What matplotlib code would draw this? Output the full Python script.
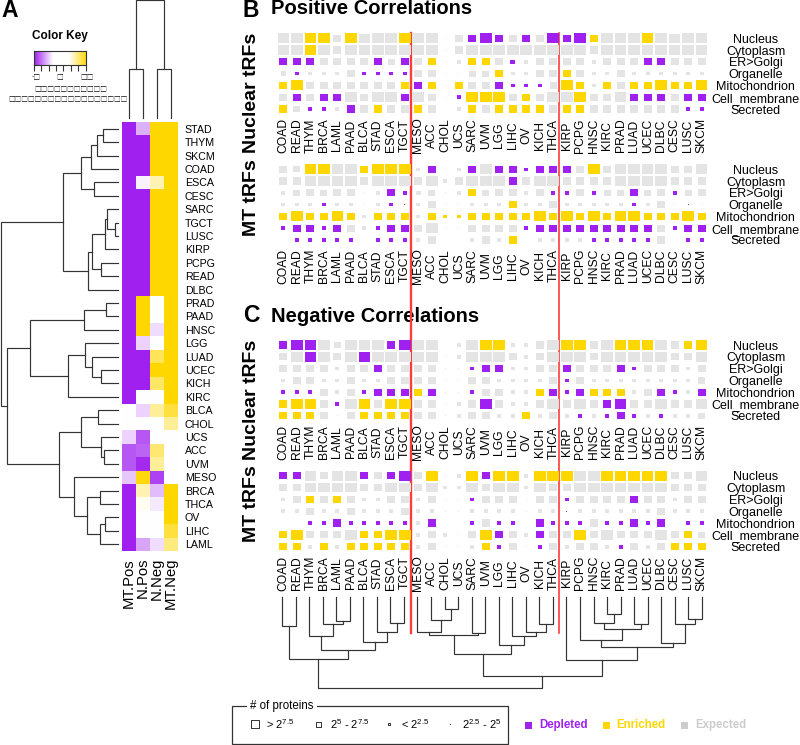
import numpy as np
import matplotlib
matplotlib.use("Agg")
import matplotlib.pyplot as plt
from matplotlib.colors import LinearSegmentedColormap
from matplotlib.patches import Rectangle

plt.rcParams['font.family'] = ['Liberation Sans', 'DejaVu Sans']
plt.rcParams['mathtext.fontset'] = 'custom'
plt.rcParams['mathtext.rm'] = 'Liberation Sans'
plt.rcParams['mathtext.default'] = 'rm'

W, H = 800, 745

# panel A heatmap
row_labels = ["STAD", "THYM", "SKCM", "COAD", "ESCA", "CESC", "SARC", "TGCT", "LUSC", "KIRP", "PCPG",
              "READ", "DLBC", "PRAD", "PAAD", "HNSC", "LGG", "LUAD", "UCEC", "KICH", "KIRC", "BLCA",
              "CHOL", "UCS", "ACC", "UVM", "MESO", "BRCA", "THCA", "OV", "LIHC", "LAML"]
heat_cols = ["MT.Pos", "N.Pos", "N.Neg", "MT.Neg"]
mt_pos = [-1, -1, -1, -1, -1, -1, -1, -1, -1, -1, -1, -1, -1, -1, -1, -1, -1, -1, -1, -1, -1, 0, 0,
          -0.2, -0.75, -0.75, -0.25, -1, -1, -1, -1, -1]
n_pos = [-0.35, -1, -1, -1, -0.06, -1, -1, -1, -1, -1, -1, -1, -1, 1, 1, 1, -0.2, -1, -1, -1, 0, -0.2, 0,
         -0.75, -0.7, -0.95, 0.95, 0.3, 0.06, 0, 0, -0.4]
n_neg = [1, 1, 1, 1, 0.3, 1, 1, 1, 1, 1, 1, 1, 1, 0, 0, -0.15, 0, 0.65, 1, 0.6, 0, 0.4, 0,
         0, 0.55, 0.4, -0.85, -0.3, -0.1, 0, 0, -0.15]
mt_neg = [1, 1, 1, 1, 1, 1, 1, 1, 1, 1, 1, 1, 1, 1, 1, 1, 1, 1, 1, 1, 1, 0.75, 0.4,
          0, 0, 0, 0, 1, 1, 1, 0.75, 0.5]

# trees: (height, left, right)
row_tree = (117.3,
    (55.3,
        (37.3, (27.3, (21, (15, "STAD", "THYM"), "SKCM"), "COAD"), (24, "ESCA", "CESC")),
        (30.3, (26, (13.3, (10.7, "SARC", (3.3, "TGCT", "LUSC")), "KIRP"), (17, "PCPG", "READ")), "DLBC")),
    (111.3,
        (88.3,
            (33.7, (11.7, "PRAD", "PAAD"), "HNSC"),
            (50.3, (33.3, "LGG", (26, "LUAD", (17, "UCEC", "KICH"))), "KIRC")),
        (59.3,
            (37.3, (19.7, "BLCA", "CHOL"), (17.3, "UCS", (14, "ACC", "UVM"))),
            (44.3, "MESO", (31, (18, "BRCA", "THCA"), (18, (12.7, "OV", "LIHC"), "LAML"))))))
col_tree_heat = (117, (48, "MT.Pos", "N.Pos"), (48, "N.Neg", "MT.Neg"))

# panels B and C
compartments = ["Nucleus", "Cytoplasm", "ER>Golgi", "Organelle", "Mitochondrion", "Cell_membrane", "Secreted"]
cancers = ["COAD", "READ", "THYM", "BRCA", "LAML", "PAAD", "BLCA", "STAD", "ESCA", "TGCT", "MESO", "ACC",
           "CHOL", "UCS", "SARC", "UVM", "LGG", "LIHC", "OV", "KICH", "THCA", "KIRP", "PCPG", "HNSC", "KIRC",
           "PRAD", "LUAD", "UCEC", "DLBC", "CESC", "LUSC", "SKCM"]

# each cell: p depleted / y enriched / g expected, number = square side
pos_nuclear = [
    "g11 g11 y11 y11 g8 y11 g10 g11 g11 y11 g11 g11 g1 g8 p8 p11 p8 g8 p8 g8 p11 p8 p11 y8 g11 g11 g11 y11 g11 g10 g11 g11",
    "g11 g11 y11 g11 g8 g11 g11 g11 g11 g11 g11 g11 g1 g8 g11 g11 g11 g11 g11 g11 g11 g11 g11 g8 g11 g11 g11 g11 g11 g11 g11 g11",
    "p8 p8 p8 g8 g8 g8 g8 p8 g7 p8 g8 y8 g1 g4 y8 y8 g8 p5 g4 g8 g8 g8 g8 g4 g8 g8 g8 p8 p8 g8 g8 g8",
    "g5 p4 g4 g4 g4 g8 p4 p4 p4 p4 g8 g8 g1 g1 g7 g7 y8 g4 g4 g8 g8 y8 g8 g4 g4 g8 g4 g4 g4 g4 g4 g4",
    "y8 y11 g8 g8 g8 g8 g8 g8 g8 y8 p8 y8 g1 y8 g8 g8 p8 p4 p4 p4 g7 y11 y8 g4 y8 g8 y8 y8 y11 y8 y8 y11",
    "g8 p8 g8 p8 p8 g11 g8 g11 g11 p8 g11 g8 g1 p4 y11 y11 y11 g8 y8 g8 g11 g11 y11 g8 g8 g11 p8 p8 p8 g8 p8 p8",
    "y8 g7 p4 p4 g4 p8 g8 y8 g8 g8 y8 g8 g1 g4 y8 g8 y8 y8 y8 y8 g8 y8 y8 g8 g8 g8 g8 g8 g8 g8 p4 p4",
]
pos_mt = [
    "g8 g7 y11 y11 g11 g11 y8 y11 y11 y11 g4 p8 g1 g4 p8 g11 p8 p8 p4 p8 p8 p8 g8 y11 g8 g11 g11 g11 g11 g8 g8 g11",
    "g8 g8 g11 g11 g11 g11 g8 g11 g11 g11 g8 g11 g4 g8 g11 g11 g11 p8 g8 g11 g11 g8 g8 g8 g8 g11 g11 g11 g11 g8 g8 g8",
    "g4 g7 g8 g7 g8 g8 g1 g4 p8 p4 g5 g7 g1 g4 y8 g7 g8 g8 g4 g8 p4 p4 g8 p4 g7 g7 p8 g7 g8 p4 g7 g8",
    "g4 g4 g4 p4 g4 g4 g1 g4 p4 p1 g4 g8 g1 g1 g4 g4 g4 y8 g4 g4 g8 g4 g4 g4 g4 g4 p4 g4 g8 g1 p1 g1",
    "y8 y11 y8 y8 y11 y8 g4 y8 y8 y8 g4 y8 y4 y4 y8 y8 y8 y8 y8 y11 y8 y11 y8 y11 y8 y11 y11 y8 y8 y8 y11 y8",
    "p4 p8 p8 p4 p8 g8 g4 p4 p8 p8 g8 g11 g1 g1 g8 g8 g8 g8 p4 p8 p8 p8 p8 p8 p8 p8 p8 p8 g8 p4 p8 p8",
    "p1 p4 p4 p4 p4 p4 g1 p4 p4 p4 g4 g8 g1 g1 g4 g8 g4 y8 g1 g4 g4 g4 g4 p4 p4 p4 p4 p4 g8 p1 p4 p4",
]
neg_nuclear = [
    "p8 p11 p11 g11 g7 g11 g11 g11 p8 p11 g11 g11 g1 g4 g11 y11 y11 g4 g4 g8 g11 y11 y11 g8 g11 y11 y11 y11 g11 g8 y8 y11",
    "g8 g11 p11 g11 g8 g11 p11 g11 g11 g11 g11 g11 g1 g4 g11 g11 g11 g8 g4 g8 g11 g11 g11 g8 g11 g11 g11 g11 g11 g8 g8 g11",
    "g8 g8 g8 g8 g4 g8 g8 p8 g8 g8 g8 g8 g1 g1 p4 p8 p8 g4 g4 g8 g8 p8 g8 g8 g8 p8 p4 g8 g8 g8 g4 g8",
    "g4 g8 g8 g4 g4 g8 g4 g4 g8 g8 g8 g8 g1 g1 g8 g8 g4 g4 g4 g4 g8 p4 g8 g4 g4 g4 g4 g4 g4 g4 g4 g7",
    "p4 p4 p4 g8 g4 g8 p4 p8 p8 p8 y8 p8 g1 g1 p4 g8 g8 g4 g4 y8 p8 p4 p8 y8 y8 y8 g4 g8 p8 p4 g4 p8",
    "y8 y11 y11 g8 p4 g11 y11 g8 y11 y11 g8 g8 g1 g4 g8 p11 g8 g4 g4 g8 g11 g8 g11 g8 p8 p11 g8 g8 g11 g8 g8 g11",
    "y8 y8 y8 g8 g1 g8 y8 y8 y8 y8 g8 g8 g1 g4 g8 g8 g4 g4 y8 g4 g8 g4 p4 g4 p4 p8 p4 g4 p4 g4 g4 g7",
]
neg_mt = [
    "p8 p8 g11 g8 g11 g11 p8 g8 p8 p11 g8 y11 g1 g4 y11 p8 y11 y11 g4 y11 y11 y11 g11 g11 y11 y11 y11 y11 y11 g8 g8 g11",
    "g8 g8 g11 g11 g11 g11 g8 g8 g11 g11 g8 g11 g4 g4 g11 g8 g11 g11 g4 g11 g8 g8 g11 g11 g11 g11 g11 g11 g11 g8 g8 g8",
    "g4 g8 y8 g8 y8 g8 g4 g4 g8 g8 g4 g8 g1 g1 p4 g8 g8 g8 g1 g8 g8 p4 g8 g8 g8 g8 p8 g8 g8 g4 g8 g8",
    "g4 g4 g8 g4 g4 g8 g4 g4 g4 g8 g4 g4 g1 g1 g4 g4 g4 g4 g1 g4 g4 p1 g4 g4 g4 g4 g4 g4 g8 g4 g4 g4",
    "p1 p1 p4 p4 p8 p4 p4 p4 p4 p4 g4 p8 g1 g1 p4 g8 p4 p4 g1 p8 p4 p4 p4 g8 p4 p4 p8 p4 p8 p1 p4 p4",
    "y8 y11 g8 g8 g8 g11 y8 y8 y11 y11 g4 g8 g4 g1 g8 y11 p8 g8 g4 p8 g8 g8 y11 g8 g11 g8 g8 g8 g11 g8 y8 g7",
    "y8 y8 g4 y8 g4 y8 y8 y8 y8 y8 g4 g8 g1 g1 g4 y8 p4 g8 g1 p4 g8 g4 g8 g8 g4 p4 g8 g4 g8 y8 y8 y8",
]

col_tree = (90.7,
    (62, (28.7, "COAD", "READ"),
        (53.3, (39, "THYM", (26.7, "BRCA", (24.3, "LAML", "PAAD"))),
               (44.7, "BLCA", (34.7, "STAD", (26, "ESCA", "TGCT"))))),
    (79.3,
        (57.3, (38.3, (35, "MESO", (23, "ACC", (12, "CHOL", "UCS"))), (36, "SARC", "UVM")),
               (47.7, "LGG", (39, "LIHC", (35.3, "OV", (27.3, "KICH", "THCA"))))),
        (62.7, "KIRP",
            (50, (43, "PCPG", (32.3, (26, "HNSC", (17.3, "KIRC", "PRAD")), (26.7, "LUAD", "UCEC"))),
                 (45.7, "DLBC", (27, "CESC", (22.3, "LUSC", "SKCM")))))))

legend_labels = [r"> $2^{7.5}$", r"$2^{5}$ - $2^{7.5}$", r"< $2^{2.5}$", r"$2^{2.5}$ - $2^{5}$"]
legend_sides = [7.5, 5, 2.5, 1]
status_labels = ["Depleted", "Enriched", "Expected"]

COLORS = {"p": "#A020F0", "y": "#FFD700", "g": "#E4E4E4"}
LINE = "#333333"


def ax_px(x0, y0, x1, y1, **kw):
    return fig.add_axes([x0 / W, 1 - y1 / H, (x1 - x0) / W, (y1 - y0) / H], **kw)


def side_to_s(px):
    return (px * 72 / 100) ** 2


def draw_tree(ax, node, pos, horizontal):
    if isinstance(node, str):
        return pos[node], 0
    h, left, right = node
    p1, h1 = draw_tree(ax, left, pos, horizontal)
    p2, h2 = draw_tree(ax, right, pos, horizontal)
    a = [h1, h, h, h2]
    b = [p1, p1, p2, p2]
    if horizontal:
        ax.plot(a, b, color=LINE, lw=0.85, solid_joinstyle='miter', clip_on=False)
    else:
        ax.plot(b, a, color=LINE, lw=0.85, solid_joinstyle='miter', clip_on=False)
    return (p1 + p2) / 2, h


def dot_panel(rows, y0, y1, label_center):
    pitch = (y1 - y0) / 6
    bottom = y1 + pitch / 2
    ax = ax_px(276.55, y0 - pitch / 2, 708.45, bottom)
    ax.set_xlim(-0.5, 31.5)
    ax.set_ylim(6.5, -0.5)
    for r, row in enumerate(rows):
        for c, cell in enumerate(row.split()):
            side = float(cell[1:])
            # the cells are a bit wider than tall in the original
            ax.bar(c, side * 0.9 / pitch, width=side * 1.05 / 13.5, bottom=r - side * 0.45 / pitch,
                   color=COLORS[cell[0]], linewidth=0)
    ax.set_xlim(-0.5, 31.5)
    ax.set_ylim(6.5, -0.5)
    ax.set_xticks(range(len(cancers)), cancers, rotation=90, fontsize=8.7)
    for t in ax.get_xticklabels():
        t.set_va('center')
    ax.set_yticks(range(7), compartments, fontsize=9)
    ax.yaxis.tick_right()
    for t in ax.get_yticklabels():
        t.set_ha('center')
    ax.tick_params(axis='both', length=0)
    ax.tick_params(axis='x', pad=(label_center - bottom) * 0.72)
    ax.tick_params(axis='y', pad=34)
    for s in ax.spines.values():
        s.set_visible(False)
    ax.patch.set_alpha(0)
    return ax


fig = plt.figure(figsize=(W / 100, H / 100), dpi=100)

# overlay in pixels for the loose text and the red lines
bg = ax_px(0, 0, W, H)
bg.set_xlim(0, W)
bg.set_ylim(H, 0)
bg.axis('off')

# --- panel A ---
cmap = LinearSegmentedColormap.from_list("heat", ["#A020F0", "#FFFFFF", "#FFD700"])
key_cmap = LinearSegmentedColormap.from_list("key", [(0, "#A020F0"), (0.36, "#FFFFFF"), (0.66, "#FFFFFF"), (1, "#FFD700")])
heat = np.array([mt_pos, n_pos, n_neg, mt_neg]).T
ax = ax_px(122, 122, 178, 551)
ax.imshow(heat, cmap=cmap, vmin=-1, vmax=1, aspect='auto', interpolation='nearest')
ax.set_xticks(range(4), heat_cols, rotation=90, fontsize=10.7)
ax.set_yticks(range(len(row_labels)), row_labels, fontsize=7.7)
ax.yaxis.tick_right()
ax.tick_params(axis='both', length=0)
ax.tick_params(axis='x', pad=5)
ax.tick_params(axis='y', pad=5)
for s in ax.spines.values():
    s.set_visible(False)

ax = ax_px(0, 122, 118, 551)
ax.set_xlim(118, 0)
ax.set_ylim(len(row_labels) - 0.5, -0.5)
ax.axis('off')
draw_tree(ax, row_tree, {k: i for i, k in enumerate(row_labels)}, True)

ax = ax_px(122, 0.5, 178, 117.5)
ax.set_xlim(-0.5, 3.5)
ax.set_ylim(0, 117)
ax.axis('off')
draw_tree(ax, col_tree_heat, {k: i for i, k in enumerate(heat_cols)}, False)

# colour key
ax = ax_px(33.5, 50.5, 86, 65)
ax.imshow(np.linspace(-1, 1, 200)[None, :], cmap=key_cmap, aspect='auto', vmin=-1, vmax=1)
ax.set_xticks(np.linspace(0, 199, 8), [""] * 8)
ax.set_yticks([])
ax.tick_params(axis='x', length=4, width=0.8, color=LINE)
for s in ax.spines.values():
    s.set_linewidth(0.8)
    s.set_color(LINE)
bg.text(60, 36, "Color Key", fontsize=8.5, fontweight='bold', ha='center', va='center')
tofu = dict(family=['Noto Sans CJK SC', 'DejaVu Sans'], fontsize=4.8, ha='center', va='center', color='#111111')
bg.text(36, 76.5, "-\u25a1", **tofu)
bg.text(60, 76.5, "\u25a1", **tofu)
bg.text(87, 76.5, "\u25a1\u25a1", **tofu)
bg.text(71, 88, "\u25a1" * 11, **tofu)
bg.text(68, 98.5, "\u25a1" * 18, **tofu)

# --- panels B, C ---
dot_panel(pos_nuclear, 38.3, 109, 135.5)
dot_panel(pos_mt, 169.3, 240, 266)
dot_panel(neg_nuclear, 345, 415.7, 442)
dot_panel(neg_mt, 475.7, 546.7, 573)

ax = ax_px(275.2, 597, 708.7, 692)
ax.set_xlim(-0.5, 31.5)
ax.set_ylim(95, 0)
ax.axis('off')
draw_tree(ax, col_tree, {k: i for i, k in enumerate(cancers)}, False)

for x, lw in [(410.8, 1.7), (559.4, 1.2)]:
    bg.plot([x, x], [33, 633], color="#FF3B3B", lw=lw, zorder=10)

bg.text(1, 10.5, "A", fontsize=16.5, fontweight='bold', va='center')
bg.text(243, 10.5, "B", fontsize=16.5, fontweight='bold', va='center')
bg.text(243, 316, "C", fontsize=16.5, fontweight='bold', va='center')
bg.text(271, 9, "Positive Correlations", fontsize=14.5, fontweight='bold', va='center')
bg.text(271, 316, "Negative Correlations", fontsize=14.5, fontweight='bold', va='center')
for y, s in [(93, "Nuclear tRFs"), (198, "MT tRFs"), (400, "Nuclear tRFs"), (504, "MT tRFs")]:
    bg.text(252, y, s, fontsize=14, fontweight='bold', rotation=90, ha='center', va='center')

# --- legend ---
bg.add_patch(Rectangle((232, 706), 276, 38, fill=False, ec=LINE, lw=0.9, clip_on=False))
bg.add_patch(Rectangle((247, 702), 70, 8, fc='white', ec='none', zorder=3))
bg.text(250, 705.5, "# of proteins", fontsize=8.3, va='center', zorder=4)
for x, tx, lab, side in zip([254.5, 318, 389, 450], [266, 330, 401, 462], legend_labels, legend_sides):
    if side > 1:
        bg.scatter(x, 724, marker='s', s=side_to_s(side), facecolor='white', edgecolor=LINE, linewidths=0.7)
    else:
        bg.scatter(x, 724, marker='s', s=side_to_s(side), color=LINE, linewidths=0)
    bg.text(tx, 724, lab, fontsize=8, va='center')
for x, tx, lab, k in zip([528, 606, 684], [539, 616, 695], status_labels, ["p", "y", "g"]):
    col = COLORS[k] if k != "g" else "#CCCCCC"
    bg.scatter(x, 725, marker='s', s=side_to_s(7), color=col, linewidths=0)
    bg.text(tx, 725, lab, fontsize=8.3, fontweight='bold', color=col, va='center')

fig.savefig("out.png", dpi=100)
